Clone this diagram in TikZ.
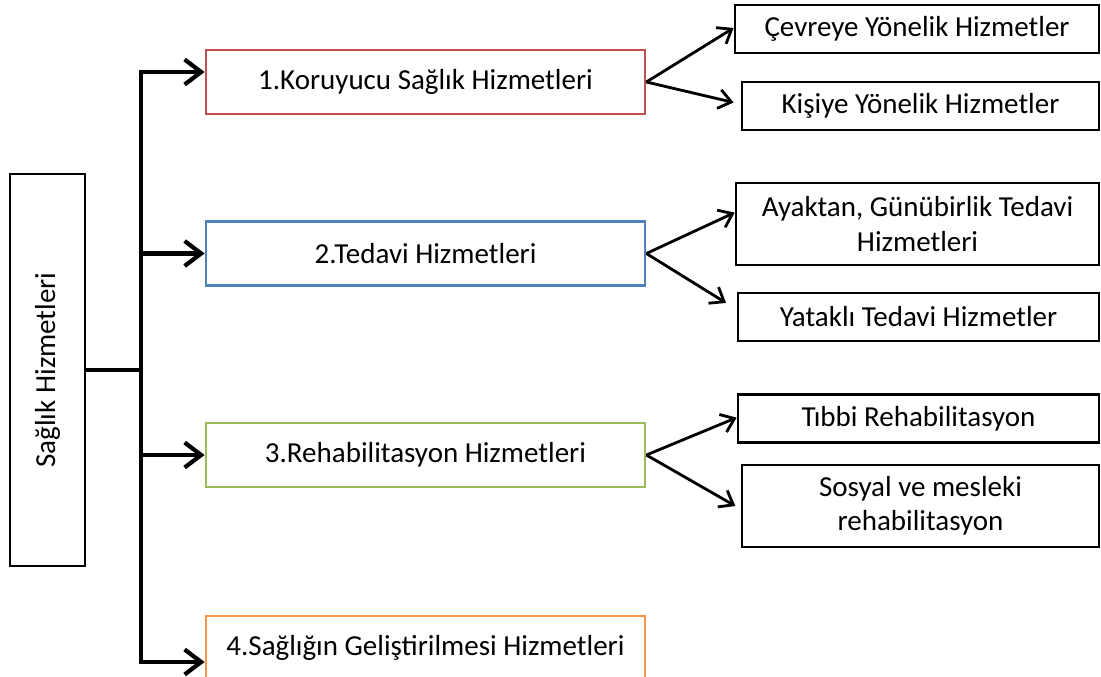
\documentclass[tikz,border=0pt]{standalone}
\usepackage{fontspec}
\setmainfont{Carlito}
\usetikzlibrary{arrows.meta,positioning,calc}
\definecolor{korured}{HTML}{C0504D}
\definecolor{tedblue}{HTML}{4F81BD}
\definecolor{rehgreen}{HTML}{9BBB59}
\definecolor{gelorange}{HTML}{F79646}

\begin{document}
\begin{tikzpicture}[x=0.02cm, y=-0.02cm,
  every node/.style={font=\fontsize{16.5}{19.5}\selectfont, align=center,
    line width=1.6pt, inner sep=0pt},
  mainbox/.style={draw, minimum height=1.28cm, minimum width=8.78cm},
  subbox/.style={draw, minimum width=7.24cm, minimum height=0.96cm},
  trunk/.style={line width=2.4pt, line join=miter},
  bigarrow/.style={trunk, -{Straight Barb[length=3.3mm, width=5mm, line width=2.4pt]}},
  smallarrow/.style={line width=1.6pt, -{Straight Barb[length=2.5mm, width=3.8mm, line width=1.6pt]}}]
  \useasboundingbox (0,0) rectangle (1101,676);

  \node (saglik) [draw, rotate=90, minimum width=7.84cm, minimum height=1.5cm]
    at (47.5,370) {Sağlık Hizmetleri};

  \node (koru) [mainbox, draw=korured] at (425.5,82) {1.Koruyucu Sağlık Hizmetleri};
  \node (tedavi) [mainbox, draw=tedblue] at (425.5,253.5) {2.Tedavi Hizmetleri};
  \node (rehab) [mainbox, draw=rehgreen] at (425.5,455) {3.Rehabilitasyon Hizmetleri};
  \node (gelis) [mainbox, draw=gelorange] at (425.5,648) {4.Sağlığın Geliştirilmesi Hizmetleri};

  \node (cevre) [subbox, minimum width=7.28cm] at (917,29) {Çevreye Yönelik Hizmetler};
  \node (kisi) [subbox, minimum width=7.14cm] at (920.5,106) {Kişiye Yönelik Hizmetler};
  \node (ayak) [subbox, minimum width=7.26cm, minimum height=1.64cm] at (917.5,224)
    {Ayaktan, Günübirlik Tedavi\\Hizmetleri};
  \node (yatak) [subbox, minimum width=7.22cm] at (918.5,317) {Yataklı Tedavi Hizmetler};
  \node (tibbi) [subbox, minimum width=7.22cm] at (918.5,418.5) {Tıbbi Rehabilitasyon};
  \node (sosyal) [subbox, minimum width=7.14cm, minimum height=1.64cm] at (920.5,506)
    {Sosyal ve mesleki\\rehabilitasyon};

  % trunk on the left
  \coordinate (tmid) at (141,370);
  \coordinate (ttop) at (141,72);
  \coordinate (tbot) at (141,662);
  \draw[trunk] (saglik.south) -- (tmid);
  \draw[bigarrow] (tmid) -- (ttop) -- (ttop -| koru.west);
  \draw[bigarrow] (tmid |- tedavi.west) -- (tedavi.west);
  \draw[bigarrow] (tmid |- rehab.west) -- (rehab.west);
  \draw[bigarrow] (tmid) -- (tbot) -- (tbot -| gelis.west);

  % right branches
  \draw[smallarrow] (koru.east) -- ([yshift=0.6pt]cevre.west);
  \draw[smallarrow] (koru.east) -- ([xshift=-4pt, yshift=2pt]kisi.west);
  \draw[smallarrow] (tedavi.east) -- ([yshift=6.5pt]ayak.west);
  \draw[smallarrow] (tedavi.east) -- ([xshift=-6pt, yshift=8pt]yatak.west);
  \draw[smallarrow] (rehab.east) -- ([yshift=0.5pt]tibbi.west);
  \draw[smallarrow] (rehab.east) -- ([xshift=-3pt]sosyal.west);
\end{tikzpicture}
\end{document}
